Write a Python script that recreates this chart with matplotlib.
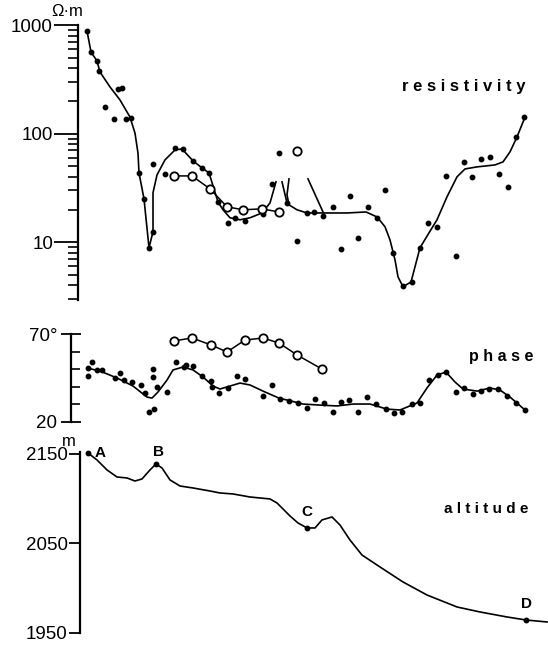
import matplotlib
matplotlib.use("Agg")
import matplotlib.pyplot as plt
from matplotlib.ticker import FixedLocator, FixedFormatter, LogLocator, NullFormatter

plt.rcParams['font.family'] = ['Liberation Sans', 'DejaVu Sans']

# distance along profile (arbitrary units)
# --- resistivity (ohm.m) ---
rho_line1_x = [0.9, 1.3, 1.9, 2.2, 3.2, 4.2, 5.2, 5.7, 6.0, 6.1, 6.6, 7.1, 7.5, 7.5,
               7.9, 8.7, 9.7, 10.4, 11.5, 12.4, 13.1, 14.0, 14.5, 15.2, 16.2, 17.2,
               18.4, 19.2, 19.8]
rho_line1_y = [881, 564, 467, 369, 269, 204, 142, 101, 66, 43.5, 25.1, 8.9, 12.5, 28.5,
               41.7, 57.3, 70.8, 72.3, 56.1, 48.4, 43.5, 23.5, 19.9, 16.8, 16.1, 16.8,
               18.6, 23.0, 36.0]
rho_line2_x = [20.4, 20.9]
rho_line2_y = [36.0, 23.0]
rho_line3_x = [21.1, 20.9, 21.1, 21.9, 22.9, 24.5, 26.9, 28.8, 29.9, 30.7, 31.2, 31.7,
               32.0, 32.5, 33.3, 34.2, 35.1, 35.9, 36.9, 37.9, 38.7, 39.9, 41.7, 42.5,
               43.2, 43.9, 44.7]
rho_line3_y = [38.3, 27.3, 22.1, 19.9, 18.6, 18.6, 18.6, 19.0, 17.1, 13.9, 10.5, 6.9,
               4.8, 3.9, 4.3, 8.9, 12.2, 16.1, 26.2, 40.0, 47.3, 49.4, 51.5, 54.9,
               67.9, 93.2, 142]
rho_line4_x = [23.0, 24.5]
rho_line4_y = [38.3, 19.0]

rho_dots_x = [0.9, 1.3, 1.9, 2.1, 4.0, 4.4, 2.7, 3.6, 4.8, 5.3, 6.1, 6.6, 7.1, 7.5, 7.5,
              8.7, 9.7, 10.5, 11.5, 12.4, 13.1, 14.0, 15.0, 15.7, 16.7, 18.5, 19.4, 20.1,
              20.9, 22.9, 23.6, 24.5, 25.5, 27.2, 29.0, 29.9, 21.9, 26.3, 28.0, 30.7,
              31.5, 32.5, 33.4, 34.2, 35.0, 35.9, 37.8, 36.8, 38.6, 39.4, 40.3, 41.2,
              42.1, 43.0, 43.8, 44.6]
rho_dots_y = [881, 564, 467, 377, 258, 263, 176, 137, 137, 139, 43.5, 25.1, 8.9, 12.5,
              52.6, 42.6, 73.9, 72.3, 56.1, 48.4, 43.5, 23.5, 15.1, 16.8, 15.7, 18.2,
              34.5, 66.4, 23.0, 18.6, 19.0, 17.5, 21.2, 26.7, 21.2, 16.8, 10.3, 8.7,
              11.0, 30.3, 8.0, 3.97, 4.3, 8.9, 15.1, 13.9, 7.5, 40.8, 54.9, 40.0, 58.5,
              61.0, 42.6, 32.3, 93.2, 142]

rho_open_x = [9.6, 11.4, 13.2, 14.9, 16.5, 18.4, 20.1]
rho_open_y = [40.8, 40.8, 31.0, 21.2, 19.9, 20.3, 19.0]
rho_lone_x = [21.9]
rho_lone_y = [69.3]

# --- phase (degrees) ---
ph_line_x = [0.9, 2.2, 3.9, 5.5, 6.9, 7.4, 8.0, 8.9, 9.5, 10.5, 11.5, 12.5, 13.5, 14.2,
             15.2, 16.2, 17.2, 18.5, 20.1, 20.9, 22.5, 24.2, 25.9, 27.5, 29.2, 30.9,
             32.2, 33.9, 34.9, 35.9, 36.8, 37.7, 38.5, 39.9, 41.2, 42.2, 43.2, 44.7]
ph_line_y = [50.7, 49.0, 45.0, 40.4, 34.1, 33.5, 37.0, 43.8, 49.6, 51.3, 49.6, 45.6,
             40.4, 38.7, 40.4, 42.1, 41.0, 37.5, 33.5, 32.4, 30.1, 29.5, 29.0, 30.1,
             30.1, 27.2, 26.7, 30.7, 39.3, 46.7, 48.4, 42.7, 38.7, 37.5, 39.3, 38.1,
             34.1, 26.7]
ph_dots_x = [1.0, 1.4, 1.0, 1.9, 2.4, 3.7, 4.2, 4.6, 5.4, 6.3, 6.7, 7.1, 7.6, 7.5, 7.5,
             7.9, 8.9, 9.8, 10.6, 10.8, 11.5, 12.4, 13.3, 13.4, 14.1, 15.0, 15.9, 16.7,
             18.5, 19.4, 20.2, 21.1, 22.0, 22.9, 23.7, 24.6, 25.5, 26.3, 27.1, 28.0,
             28.9, 29.8, 30.8, 31.6, 32.4, 33.4, 34.2, 35.1, 36.0, 36.8, 37.8, 38.6,
             39.5, 40.3, 41.1, 42.0, 42.9, 43.8, 44.7]
ph_dots_y = [50.7, 54.1, 46.1, 49.6, 49.6, 45.0, 47.8, 43.8, 42.7, 41.0, 36.4, 25.5,
             27.2, 50.1, 45.6, 39.8, 37.0, 54.1, 51.3, 52.4, 51.9, 46.1, 43.3, 39.8,
             36.4, 39.3, 46.1, 44.4, 34.7, 41.0, 33.0, 31.8, 30.7, 27.8, 33.0, 30.7,
             25.5, 31.2, 32.4, 25.5, 34.1, 30.1, 27.2, 24.9, 25.5, 30.1, 30.7, 43.8,
             46.7, 48.4, 37.0, 39.3, 35.8, 37.5, 38.7, 38.7, 34.7, 30.7, 26.7]
ph_open_x = [9.6, 11.4, 13.3, 14.9, 16.7, 18.5, 20.1, 21.9, 24.4]
ph_open_y = [66.2, 67.9, 63.9, 59.9, 66.7, 67.9, 65.0, 58.2, 50.1]

# --- altitude (m) ---
alt_x = [1.0, 1.9, 2.9, 3.9, 4.9, 5.7, 6.4, 7.2, 7.8, 8.4, 9.2, 10.2, 11.5, 13.2, 14.2,
         15.5, 17.2, 19.2, 19.9, 20.5, 21.2, 22.0, 22.9, 23.7, 24.4, 25.4, 26.2, 27.2,
         28.4, 30.2, 32.5, 34.9, 37.9, 40.2, 42.9, 44.8, 46.9]
alt_y = [2151.1, 2143.3, 2132.1, 2124.2, 2123.1, 2119.7, 2122.0, 2132.1, 2138.8, 2134.3,
         2120.9, 2114.1, 2111.9, 2108.5, 2106.3, 2105.2, 2101.8, 2099.6, 2095.1, 2088.4,
         2080.5, 2072.7, 2067.1, 2067.1, 2076.1, 2079.4, 2070.4, 2053.6, 2036.8,
         2023.4, 2006.6, 1992.0, 1978.6, 1973.0, 1967.4, 1964.0, 1961.8]
site_names = ['A', 'B', 'C', 'D']
site_x = [1.0, 7.8, 22.9, 44.8]
site_y = [2151.1, 2138.8, 2067.1, 1964.0]

W, H = 548, 647
fig = plt.figure(figsize=(W / 100, H / 100), dpi=100)


def px_axes(left, top, right, bottom):
    ax = fig.add_axes([left / W, 1 - bottom / H, (right - left) / W, (bottom - top) / H])
    for s in ['top', 'right', 'bottom']:
        ax.spines[s].set_visible(False)
    ax.spines['left'].set_linewidth(1.6)
    ax.set_xticks([])
    ax.set_xlim(0, 47)
    ax.patch.set_alpha(0)
    return ax


lw = 1.2
dot = dict(ls='none', marker='o', ms=3.2, color='black', clip_on=False)
ring = dict(marker='o', ms=6, mfc='white', mec='black', mew=1.3, color='black',
            lw=1.1, clip_on=False)

# resistivity
ax_r = px_axes(78, 25, 548, 300)
ax_r.set_yscale('log')
ax_r.set_ylim(2.94, 1000)
for lx, ly in [(rho_line1_x, rho_line1_y), (rho_line2_x, rho_line2_y),
               (rho_line3_x, rho_line3_y), (rho_line4_x, rho_line4_y)]:
    ax_r.plot(lx, ly, color='black', lw=lw, clip_on=False)
ax_r.plot(rho_dots_x, rho_dots_y, **dot)
ax_r.plot(rho_open_x, rho_open_y, **ring)
ax_r.plot(rho_lone_x, rho_lone_y, ls='none', **{k: v for k, v in ring.items() if k != 'lw'})
ax_r.yaxis.set_major_locator(FixedLocator([10, 100, 1000]))
ax_r.yaxis.set_major_formatter(FixedFormatter(['10', '100', '1000']))
ax_r.yaxis.set_minor_locator(LogLocator(base=10, subs=range(2, 10), numticks=20))
ax_r.yaxis.set_minor_formatter(NullFormatter())
ax_r.tick_params(axis='y', which='major', direction='out', length=17, width=1.3,
                 pad=1, labelsize=13.5)
ax_r.tick_params(axis='y', which='minor', direction='out', length=7, width=1.2)

# phase
ax_p = px_axes(78, 334.3, 548, 421.7)
ax_p.set_ylim(20, 70)
ax_p.spines['left'].set_position(('outward', 5))
ax_p.plot(ph_line_x, ph_line_y, color='black', lw=lw, clip_on=False)
ax_p.plot(ph_dots_x, ph_dots_y, **dot)
ax_p.plot(ph_open_x, ph_open_y, **ring)
ax_p.yaxis.set_major_locator(FixedLocator([20, 70]))
ax_p.yaxis.set_major_formatter(FixedFormatter(['20', '70°']))
ax_p.yaxis.set_minor_locator(FixedLocator([30, 40, 50, 60]))
ax_p.tick_params(axis='y', which='major', direction='inout', length=14, width=1.3,
                 pad=3, labelsize=13.5)
ax_p.tick_params(axis='y', which='minor', direction='in', length=6.5, width=1.2)

# altitude
ax_a = px_axes(78, 452, 548, 632.5)
ax_a.set_ylim(1950, 2152.2)
ax_a.spines['left'].set_position(('outward', -1.5))
ax_a.plot(alt_x, alt_y, color='black', lw=lw, clip_on=False)
ax_a.plot(site_x, site_y, **dot)
ax_a.set_yticks([1950, 2050, 2150])
ax_a.tick_params(axis='y', which='major', direction='out', length=8, width=1.3,
                 pad=1, labelsize=13.5)
offsets = [(0.7, -0.5, 'left', 'center'), (0.2, 6, 'center', 'bottom'),
           (0.0, 10, 'center', 'bottom'), (0.0, 10, 'center', 'bottom')]
for name, sx, sy, (dx, dy, ha, va) in zip(site_names, site_x, site_y, offsets):
    ax_a.text(sx + dx, sy + dy, name, ha=ha, va=va, fontsize=11, fontweight='bold')

# panel titles and units
fig.text(525 / W, 1 - 86 / H, 'r e s i s t i v i t y', ha='right', va='center',
         fontsize=12, fontweight='bold')
fig.text(533 / W, 1 - 356 / H, 'p h a s e', ha='right', va='center',
         fontsize=11.5, fontweight='bold')
fig.text(528 / W, 1 - 509 / H, 'a l t i t u d e', ha='right', va='center',
         fontsize=11, fontweight='bold')
fig.text(67 / W, 1 - 11 / H, 'Ω·m', ha='center', va='center', fontsize=12)
fig.text(69 / W, 1 - 442 / H, 'm', ha='center', va='center', fontsize=12)

fig.savefig('out.png', dpi=100, facecolor='white')
